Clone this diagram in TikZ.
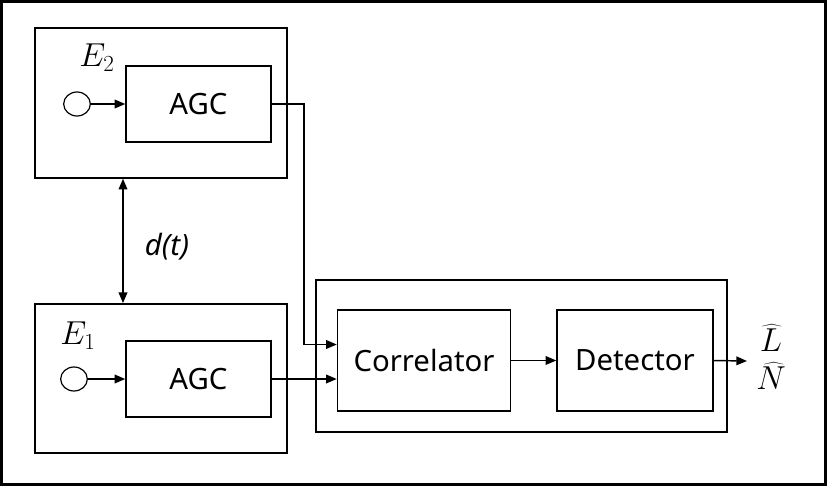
\documentclass[tikz,border=0pt]{standalone}
\usepackage{fontspec}
\setsansfont{Noto Sans}
\usetikzlibrary{arrows.meta,calc,shapes.geometric}
\begin{document}
\begin{tikzpicture}[x=0.75pt,y=-0.75pt,
  blk/.style={draw,line width=1.1pt,inner sep=0pt,font=\sffamily\fontsize{22}{26}\selectfont},
  src/.style={draw,line width=0.9pt,ellipse,minimum width=20pt,minimum height=18pt,inner sep=0pt},
  arr/.style={line width=1.1pt,-{Triangle[length=8pt,width=6.5pt]}},
  wire/.style={line width=1.1pt},
  mlab/.style={font=\fontsize{27}{30}\selectfont,inner sep=0pt}]
\useasboundingbox (0,0) rectangle (827,486);
\draw[line width=1.6pt] (1.5,1.5) rectangle (825.5,484.5);
% E2 group
\node[blk,minimum width=189pt,minimum height=112.5pt] (e2box) at (161,103) {};
\node[blk,minimum width=108.75pt,minimum height=57pt] (agc2) at (198.5,104) {AGC};
\node[src] (c2) at (77,104) {};
\node[mlab] (e2lab) at (97,58) {$E_2$};
\draw[arr] (c2.east) -- (agc2.west);
% E1 group
\node[blk,minimum width=189pt,minimum height=112pt] (e1box) at (161,378.5) {};
\node[blk,minimum width=108.75pt,minimum height=57pt] (agc1) at (198.5,379) {AGC};
\node[src] (c1) at (74,379) {};
\node[mlab] (e1lab) at (78,336) {$E_1$};
\draw[arr] (c1.east) -- (agc1.west);
% d(t)
\coordinate (dx) at (123,0);
\draw[line width=1.1pt,{Triangle[length=8pt,width=6.5pt]}-{Triangle[length=8pt,width=6.5pt]}] (e2box.south -| dx) -- (e1box.north -| dx);
\node[font=\sffamily\itshape\fontsize{22}{26}\selectfont] (dt) at (167,247) {d(t)};
% main block
\node[blk,minimum width=308.25pt,minimum height=114pt] (main) at (521.5,356) {};
\node[blk,minimum width=129.75pt,minimum height=75.75pt] (corr) at (424,360.5) {Correlator};
\node[blk,minimum width=117pt,minimum height=75.75pt] (det) at (635,360.5) {Detector};
\draw[arr] (corr.east) -- (det.west);
% connections
\coordinate (xv) at (304,0);
\draw[wire,-{Triangle[length=8pt,width=6.5pt]}] (agc2.east) -- (agc2.east -| xv) |- ($(corr.west)+(0,-16)$);
\draw[arr] (agc1.east) -- (agc1.east -| corr.west);
% output
\coordinate (outp) at (747,361);
\draw[arr] (det.east) -- (outp);
\node[font=\fontsize{25}{29}\selectfont,inner sep=0pt,align=center] (est) at (771,357) {$\widehat{L}$\\$\widehat{N}$};
\end{tikzpicture}
\end{document}
